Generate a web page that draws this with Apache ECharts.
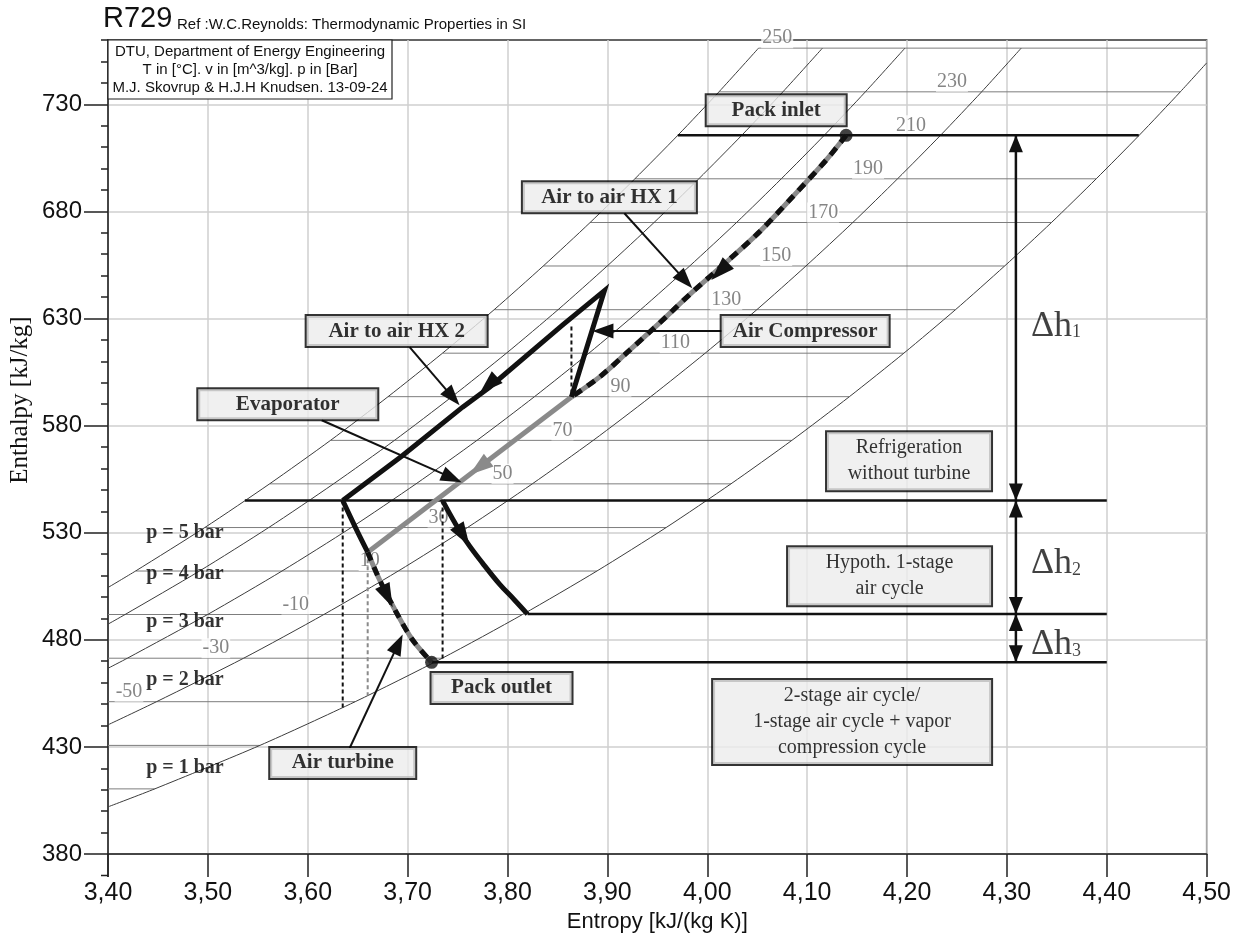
<!DOCTYPE html>
<html><head><meta charset="utf-8">
<script src="https://cdn.jsdelivr.net/npm/echarts@6/dist/echarts.min.js"></script>
<style>html,body{margin:0;padding:0;background:#fff}#c{width:1234px;height:946px}</style>
</head><body><div id="c"></div>
<script>
// ---------------- data ----------------
// isotherms (°C) : enthalpy level and entropy extent (5 bar -> 1 bar isobar)
const isoT     = [-90,-70,-50,-30,-10,10,30,50,70,90,110,130,150,170,190,210,230,250];
const isoH     = [410.4,430.7,451.1,471.4,491.8,512.1,532.4,552.8,573.1,593.5,613.8,634.1,654.5,674.8,695.2,715.5,735.8,756.2];
const isoSFrom = [3.40,3.40,3.40,3.40,3.40,3.4276,3.4969,3.5618,3.6228,3.6804,3.7349,3.7866,3.8358,3.8827,3.9275,3.9705,4.0117,4.0513];
const isoSTo   = [3.4468,3.5521,3.6475,3.7347,3.8150,3.8895,3.9588,4.0237,4.0847,4.1423,4.1968,4.2485,4.2977,4.3446,4.3894,4.4324,4.4736,4.50];
const isoLabelS= [null,null,3.421,3.508,3.588,3.662,3.731,3.795,3.855,3.913,3.968,4.019,4.069,4.116,4.161,4.204,4.245,4.070];

// isobars [s, h]
const isobar1 = [[3.40,402.0],[3.4468,410.4],[3.5521,430.7],[3.6475,451.1],[3.7347,471.4],[3.8150,491.8],[3.8895,512.1],[3.9588,532.4],[4.0237,552.8],[4.0847,573.1],[4.1423,593.5],[4.1968,613.8],[4.2485,634.1],[4.2977,654.5],[4.3446,674.8],[4.3894,695.2],[4.4324,715.5],[4.4736,735.8],[4.50,749.3]];
const isobar2 = [[3.40,440.3],[3.4486,451.1],[3.5358,471.4],[3.6161,491.8],[3.6906,512.1],[3.7599,532.4],[3.8248,552.8],[3.8858,573.1],[3.9434,593.5],[3.9979,613.8],[4.0496,634.1],[4.0988,654.5],[4.1457,674.8],[4.1905,695.2],[4.2335,715.5],[4.2747,735.8],[4.3143,756.2]];
const isobar3 = [[3.40,466.7],[3.4194,471.4],[3.4997,491.8],[3.5742,512.1],[3.6435,532.4],[3.7084,552.8],[3.7694,573.1],[3.8270,593.5],[3.8815,613.8],[3.9332,634.1],[3.9824,654.5],[4.0293,674.8],[4.0741,695.2],[4.1171,715.5],[4.1583,735.8],[4.1979,756.2]];
const isobar4 = [[3.40,487.3],[3.4171,491.8],[3.4916,512.1],[3.5609,532.4],[3.6258,552.8],[3.6868,573.1],[3.7444,593.5],[3.7989,613.8],[3.8506,634.1],[3.8998,654.5],[3.9467,674.8],[3.9915,695.2],[4.0345,715.5],[4.0757,735.8],[4.1153,756.2]];
const isobar5 = [[3.40,504.4],[3.4276,512.1],[3.4969,532.4],[3.5618,552.8],[3.6228,573.1],[3.6804,593.5],[3.7349,613.8],[3.7866,634.1],[3.8358,654.5],[3.8827,674.8],[3.9275,695.2],[3.9705,715.5],[4.0117,735.8],[4.0513,756.2]];

const pLabels = ['p = 5 bar','p = 4 bar','p = 3 bar','p = 2 bar','p = 1 bar'];
const pLabelS = [3.477,3.477,3.477,3.477,3.477];
const pLabelH = [529.8,510.7,488.3,461.2,420.2];

// cycle processes [s, h]
const hx1Path        = [[4.139,715.5],[4.119,703.9],[4.085,686.6],[4.052,670.3],[4.019,656.3],[3.985,642.3],[3.952,627.8],[3.919,613.8],[3.892,602.6],[3.864,593.3]];
const compressorPath = [[3.864,593.3],[3.897,643.0]];
const hx2Path        = [[3.897,643.0],[3.855,626.9],[3.782,597.9],[3.755,588.6],[3.694,565.7],[3.635,545.0]];
const evapPath       = [[3.864,593.3],[3.660,520.9]];
const turbineBlack   = [[3.635,545.0],[3.649,531.2],[3.660,520.9]];
const turbineDash    = [[3.660,520.9],[3.672,507.9],[3.689,492.5],[3.705,479.9],[3.724,469.5]];
const turbine1Stage  = [[3.735,545.0],[3.747,534.9],[3.760,525.1],[3.775,515.8],[3.792,506.0],[3.807,498.6],[3.820,492.0]];
const packInlet  = [4.139,715.5];
const packOutlet = [3.724,469.5];

// dotted isentropes [[s,h],[s,h]]
const dottedBlack = [[[3.635,545.0],[3.635,448.4]],[[3.735,545.0],[3.735,471.0]],[[3.864,595.0],[3.864,627.0]]];
const dottedGray  = [[[3.660,520.9],[3.660,454.0]]];

// reference enthalpy levels [h, sFrom, sTo]
const refLevels = [[715.5,3.9705,4.432],[545.0,3.537,4.40],[492.0,3.820,4.40],[469.5,3.724,4.40]];

// Δh arrows
const deltaS = 4.309;
const deltaRanges = [[715.5,545.0],[545.0,492.0],[492.0,469.5]];
const deltaSub = ['1','2','3'];
const deltaLabelS = 4.324;
const deltaLabelH = [627.3,516.3,478.5];

// annotation boxes
const boxNames = ['Pack inlet','Air to air HX 1','Air Compressor','Air to air HX 2','Evaporator','Air turbine','Pack outlet'];
const boxS = [4.069,3.902,4.098,3.689,3.580,3.635,3.794];
const boxH = [727.2,686.6,624.1,624.1,590.0,422.5,457.5];
const noteTexts = ['Refrigeration\nwithout turbine','Hypoth. 1-stage\nair cycle','2-stage air cycle/\n1-stage air cycle + vapor\ncompression cycle'];
const noteS = [4.202,4.1825,4.145];
const noteH = [563.4,509.7,441.6];

// annotation arrows [sFrom,hFrom,sTo,hTo]
const annoArrows = [[3.917,679.1,3.985,644.1],[4.015,624.1,3.885,624.1],[3.702,616.6,3.752,589.5],[3.614,582.5,3.754,553.6],[3.642,429.5,3.695,482.5]];
// arrowheads on process lines
const procHeadsBlack = [[4.030,660.0,4.004,648.0],[3.800,607.0,3.772,595.0],[3.672,507.9,3.685,495.2],[3.749,533.5,3.762,523.8]];
const procHeadsGray  = [[3.790,567.0,3.762,557.1]];

const yTickValues = [380,430,480,530,580,630,680,730];

// ---------------- styles ----------------
const SANS = "'Liberation Sans', Arial, sans-serif";
const SERIF = "'Liberation Serif', 'Times New Roman', serif";
const GRAY = '#8a8a8a';
const boxW = [139,173,167,180,179,145,140];
const noteW = [164,203,278];
const noHalo = {textBorderWidth:0, textBorderColor:'transparent', textShadowBlur:0, textShadowColor:'transparent', shadowBlur:0, shadowColor:'transparent'};

function lineSeries(data, color, width, type, z, extra) {
  return Object.assign({type:'line', data, symbol:'none', silent:true, animation:false,
    lineStyle:{color, width, type: type || 'solid', cap:'butt', join:'miter', miterLimit:10}, z: z}, extra || {});
}
function arrowSeries(data, color, L, W, shaftW, z) {
  return {type:'custom', coordinateSystem:'cartesian2d', silent:true, animation:false, z, data,
    renderItem(params, api) {
      const p0 = api.coord([api.value(0), api.value(1)]);
      const p1 = api.coord([api.value(2), api.value(3)]);
      let dx = p1[0]-p0[0], dy = p1[1]-p0[1];
      const len = Math.hypot(dx, dy) || 1; dx /= len; dy /= len;
      const bx = p1[0]-dx*L, by = p1[1]-dy*L;
      const children = [];
      if (shaftW) children.push({type:'line', shape:{x1:p0[0], y1:p0[1], x2:bx+dx*2, y2:by+dy*2}, style:{stroke:color, lineWidth:shaftW}});
      children.push({type:'polygon', shape:{points:[[p1[0],p1[1]],[bx-dy*W/2,by+dx*W/2],[bx+dy*W/2,by-dx*W/2]]}, style:{fill:color}});
      return {type:'group', children};
    }};
}
function textSeries(data, label, z) {
  return {type:'scatter', silent:true, animation:false, z, symbolSize:0, itemStyle:{color:'transparent'},
    data, label:Object.assign({show:true, formatter:'{b}', position:[0,0], align:'center', verticalAlign:'middle'}, noHalo, label),
    emphasis:{disabled:true}};
}

const series = [];
// isotherms
isoT.forEach((t,i) => series.push(lineSeries([[isoSFrom[i],isoH[i]],[isoSTo[i],isoH[i]]], '#7d7d7d', 1, 'solid', 2)));
// isobars
[isobar1,isobar2,isobar3,isobar4,isobar5].forEach(p => series.push(lineSeries(p, '#3c3c3c', 1, 'solid', 2, {smooth:0.25})));
// isotherm labels
series.push(textSeries(
  isoT.map((t,i) => isoLabelS[i]==null ? null : {value:[isoLabelS[i], isoH[i]], name:String(t)}).filter(Boolean),
  {offset:[0,-10], fontFamily:SERIF, fontSize:20, color:'#666', backgroundColor:'#fff', padding:[0,1], lineHeight:20}, 3));
// pressure labels
series.push(textSeries(pLabels.map((t,i) => ({value:[pLabelS[i], pLabelH[i]], name:t})),
  {fontFamily:SERIF, fontWeight:'bold', fontSize:20, color:'#000'}, 4));
// reference levels
refLevels.forEach(r => series.push(lineSeries([[r[1],r[0]],[r[2],r[0]]], '#111', 2.5, 'solid', 5)));
// delta arrows shafts
deltaRanges.forEach(r => series.push(lineSeries([[deltaS,r[0]],[deltaS,r[1]]], '#111', 2.5, 'solid', 5)));
// dotted isentropes
dottedBlack.forEach(d => series.push(lineSeries(d, '#111', 2, [4,3], 6)));
dottedGray.forEach(d => series.push(lineSeries(d, GRAY, 2, [4,3], 6)));
// process lines
series.push(lineSeries(hx1Path, GRAY, 5, 'solid', 7, {smooth:0.3}));
series.push(lineSeries(hx1Path, '#111', 5, [9,7], 8, {smooth:0.3}));
series.push(lineSeries(evapPath, GRAY, 5, 'solid', 7));
series.push(lineSeries(turbineDash, GRAY, 5, 'solid', 7, {smooth:0.3}));
series.push(lineSeries(turbineDash, '#111', 5, [9,7], 8, {smooth:0.3}));
series.push(lineSeries(compressorPath.concat(hx2Path.slice(1)), '#111', 5, 'solid', 8));
series.push(lineSeries(turbineBlack, '#111', 5, 'solid', 8, {smooth:0.3}));
series.push(lineSeries(turbine1Stage, '#111', 5, 'solid', 8, {smooth:0.4}));
// dots
series.push({type:'scatter', silent:true, animation:false, z:10, symbolSize:13, itemStyle:{color:'#111'}, data:[packInlet, packOutlet]});
// arrowheads
series.push(arrowSeries(procHeadsBlack, '#111', 24, 16, 0, 9));
series.push(arrowSeries(procHeadsGray, GRAY, 24, 16, 0, 9));
const deltaHeads = [];
deltaRanges.forEach(r => { const m = (r[0]+r[1])/2; deltaHeads.push([deltaS,m,deltaS,r[0]]); deltaHeads.push([deltaS,m,deltaS,r[1]]); });
series.push(arrowSeries(deltaHeads, '#111', 17, 14, 0, 9));
series.push(arrowSeries(annoArrows, '#111', 21, 15, 2, 12));
// Δh labels
series.push(textSeries(deltaLabelH.map((h,i) => ({value:[deltaLabelS,h], name:deltaSub[i]})),
  {align:'left', formatter: p => '{a|Δh}{b|' + p.name + '}',
   rich:{a:{fontFamily:SERIF, fontSize:36, color:'#111', lineHeight:40, verticalAlign:'bottom'},
         b:{fontFamily:SERIF, fontSize:18, color:'#111', lineHeight:40, verticalAlign:'bottom', padding:[0,0,3,0]}}}, 12));
// boxes
series.push(textSeries(boxNames.map((t,i) => ({value:[boxS[i], boxH[i]], name:t, label:{width:boxW[i]}})),
  {fontFamily:SERIF, fontWeight:'bold', fontSize:21, lineHeight:24, color:'#000',
   backgroundColor:'#ececec', borderColor:'#000', borderWidth:2, padding:[3,0]}, 20));
series.push(textSeries(noteTexts.map((t,i) => ({value:[noteS[i], noteH[i]], name:t, label:{width:noteW[i]}})),
  {fontFamily:SERIF, fontSize:20, lineHeight:26, color:'#000',
   backgroundColor:'#ececec', borderColor:'#000', borderWidth:2, padding:[3,0]}, 20));

const axisCol = '#222';
const option = {
  animation:false,
  grid:{left:108, right:26, top:40, bottom:92, show:true, borderColor:'#333', borderWidth:1.5},
  xAxis:{type:'value', min:3.4, max:4.5, interval:0.1,
    name:'Entropy [kJ/(kg K)]', nameLocation:'middle', nameGap:48,
    nameTextStyle:{fontFamily:SANS, fontSize:22, color:'#111'},
    axisLine:{lineStyle:{color:axisCol, width:1.5}},
    axisTick:{show:true, length:23, lineStyle:{color:axisCol, width:1.5}},
    axisLabel:{fontFamily:SANS, fontSize:25, color:'#111', margin:27, formatter: v => v.toFixed(2).replace('.', ',')},
    splitLine:{show:true, lineStyle:{color:'#cfcfcf', width:1.5}}},
  yAxis:[
    {type:'value', min:380, max:760, interval:10, position:'left',
      axisLine:{show:true, lineStyle:{color:axisCol, width:1.5}},
      axisTick:{show:true, length:7, lineStyle:{color:axisCol, width:1.5}},
      axisLabel:{show:false}, splitLine:{show:false}},
    {type:'value', min:380, max:760, interval:50, position:'left',
      axisLine:{show:false},
      axisTick:{show:true, length:24, lineStyle:{color:axisCol, width:1.5}, customValues:yTickValues},
      axisLabel:{fontFamily:SANS, fontSize:24, color:'#111', margin:26, customValues:yTickValues},
      splitLine:{show:true, lineStyle:{color:'#cfcfcf', width:1.5}}}
  ],
  graphic:[
    {type:'text', x:103, y:33, z:50, style:{text:'R729', font:"29px 'Liberation Sans', Arial", fill:'#111', align:'left', verticalAlign:'bottom'}},
    {type:'text', x:177, y:32, z:50, style:{text:'Ref :W.C.Reynolds: Thermodynamic Properties in SI', font:"15px 'Liberation Sans', Arial", fill:'#111', align:'left', verticalAlign:'bottom'}},
    {type:'rect', x:108, y:40, z:50, shape:{x:0, y:0, width:284, height:59}, style:{fill:'#fff', stroke:'#222', lineWidth:1.2}},
    {type:'text', x:250, y:52, z:51, style:{text:'DTU, Department of Energy Engineering', font:"15px 'Liberation Sans', Arial", fill:'#111', align:'center', verticalAlign:'middle'}},
    {type:'text', x:250, y:70, z:51, style:{text:'T in [°C]. v in [m^3/kg]. p in [Bar]', font:"15px 'Liberation Sans', Arial", fill:'#111', align:'center', verticalAlign:'middle'}},
    {type:'text', x:250, y:88, z:51, style:{text:'M.J. Skovrup & H.J.H Knudsen. 13-09-24', font:"15px 'Liberation Sans', Arial", fill:'#111', align:'center', verticalAlign:'middle'}},
    {type:'text', x:20, y:400, rotation:Math.PI/2, z:50, style:{text:'Enthalpy [kJ/kg]', font:"25px 'Liberation Serif', 'Times New Roman'", fill:'#111', align:'center', verticalAlign:'middle'}},
    // short continuation of the enthalpy axis below 380 with its minor tick
    {type:'line', z:50, shape:{x1:108, y1:854, x2:108, y2:877}, style:{stroke:axisCol, lineWidth:1.5}},
    {type:'line', z:50, shape:{x1:101, y1:875.5, x2:108, y2:875.5}, style:{stroke:axisCol, lineWidth:1.5}}
  ],
  series
};
const chart = echarts.init(document.getElementById('c'));
chart.setOption(option);
</script></body></html>
